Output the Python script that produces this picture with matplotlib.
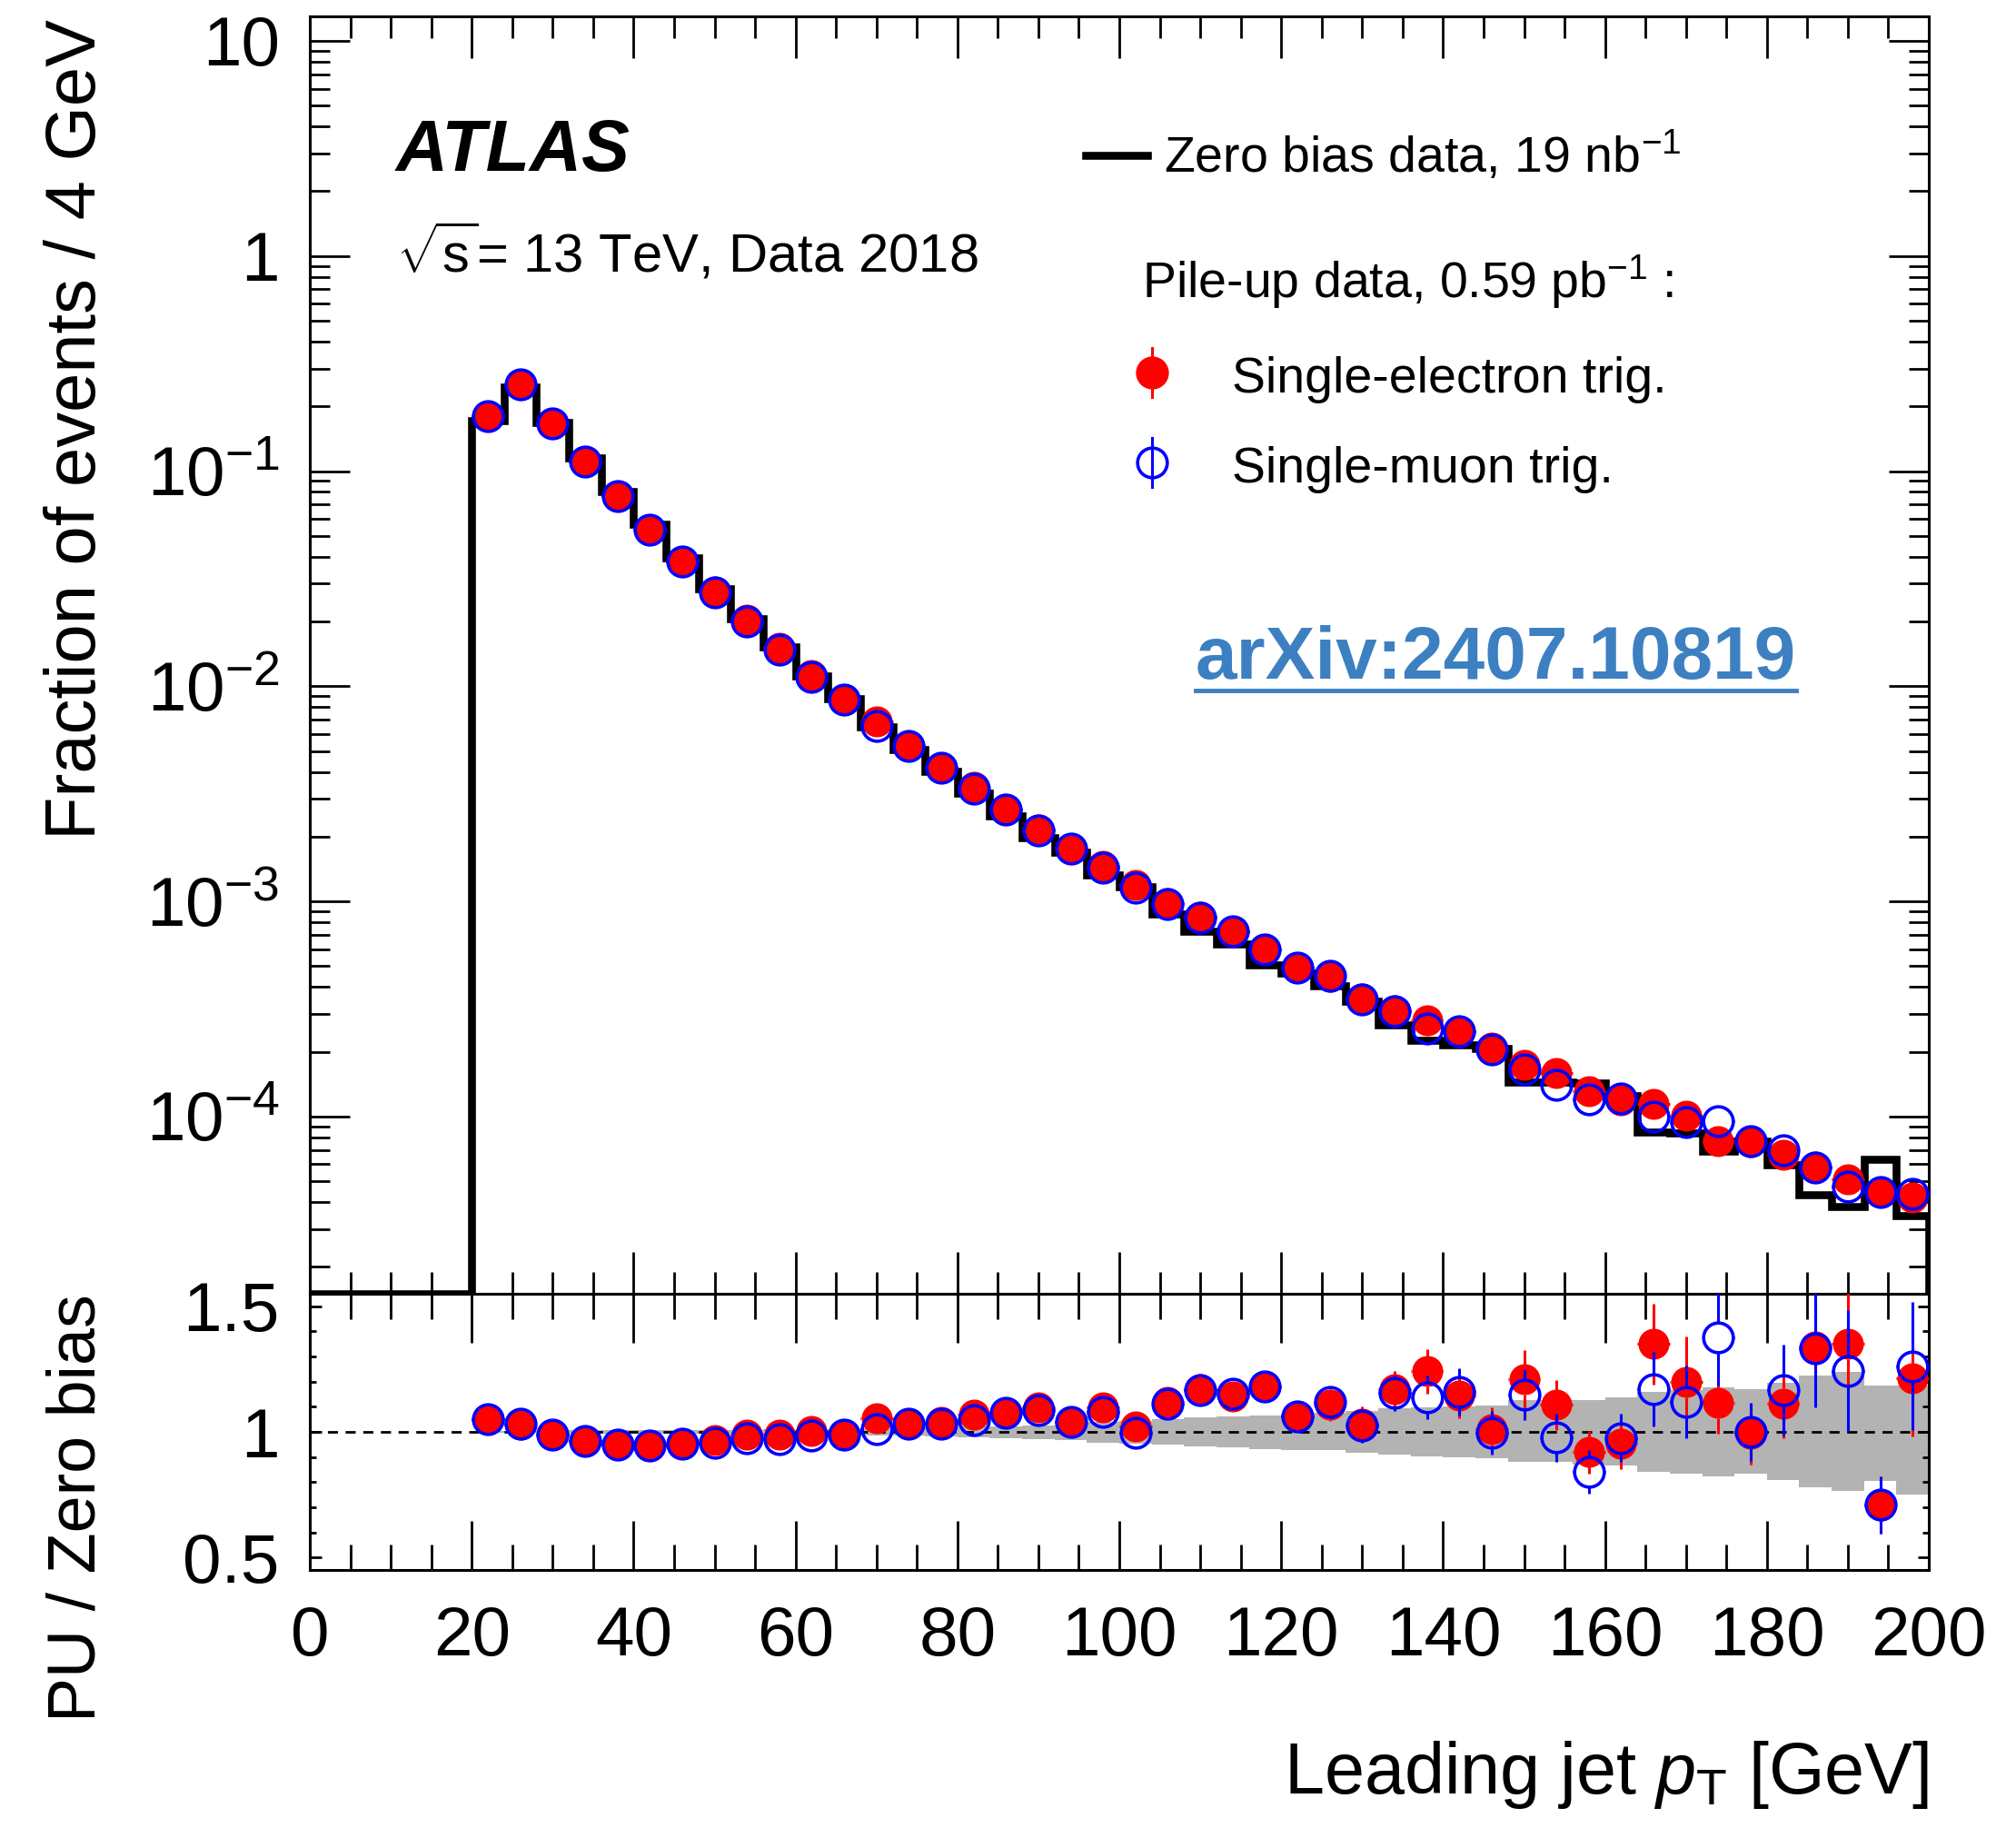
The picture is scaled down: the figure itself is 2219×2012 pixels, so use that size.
import numpy as np
import matplotlib
matplotlib.use('Agg')
import matplotlib.pyplot as plt
from matplotlib.collections import LineCollection
from matplotlib.ticker import FixedLocator, MultipleLocator, NullFormatter

plt.rcParams['font.family'] = ['Liberation Sans', 'DejaVu Sans']
plt.rcParams['mathtext.fontset'] = 'custom'
plt.rcParams['mathtext.rm'] = 'Liberation Sans'
plt.rcParams['mathtext.it'] = 'Liberation Sans:italic'
plt.rcParams['mathtext.bf'] = 'Liberation Sans:bold'

# --- data (4 GeV bins, 0-200 GeV) ---
edges = np.arange(0, 201, 4)
centers = edges[5:-1] + 2   # points from 22 to 198 GeV

# zero bias fraction per bin (first 5 bins empty)
zb = [0, 0, 0, 0, 0,
      0.172, 0.246, 0.169, 0.1153, 0.0804, 0.0564, 0.0397, 0.0285, 0.0206, 0.01518,
      0.01119, 0.00872, 0.00649, 0.00510, 0.00403, 0.00318, 0.00249, 0.00197, 0.00169, 0.00133,
      0.001166, 8.76e-4, 7.23e-4, 6.32e-4, 5.08e-4, 4.63e-4, 4.04e-4, 3.43e-4, 2.67e-4, 2.26e-4,
      2.15e-4, 2.07e-4, 1.44e-4, 1.44e-4, 1.43e-4, 1.25e-4, 8.5e-5, 8.4e-5, 6.9e-5, 7.65e-5,
      5.97e-5, 4.35e-5, 3.8e-5, 6.3e-5, 3.47e-5]

# PU / zero bias ratios
ratio_e = [1.051, 1.029, 0.990, 0.963, 0.948, 0.944, 0.954, 0.966, 0.990, 0.990,
           1.005, 0.990, 1.053, 1.033, 1.039, 1.069, 1.075, 1.099, 1.039, 1.099,
           1.021, 1.121, 1.169, 1.140, 1.180, 1.063, 1.107, 1.033, 1.170, 1.241,
           1.145, 1.010, 1.209, 1.108, 0.920, 0.952, 1.350, 1.198, 1.114, 0.991,
           1.113, 1.340, 1.350, 0.708, 1.212]
ratio_mu = [1.051, 1.033, 0.990, 0.963, 0.948, 0.944, 0.954, 0.958, 0.975, 0.972,
            0.984, 0.990, 1.012, 1.033, 1.033, 1.048, 1.075, 1.087, 1.039, 1.081,
            0.996, 1.111, 1.166, 1.152, 1.180, 1.063, 1.118, 1.024, 1.155, 1.136,
            1.160, 0.995, 1.148, 0.978, 0.840, 0.975, 1.170, 1.119, 1.375, 1.000,
            1.166, 1.332, 1.244, 0.709, 1.261]
err_e = [0.005, 0.005, 0.005, 0.005, 0.005, 0.008, 0.009, 0.010, 0.011, 0.012,
         0.014, 0.016, 0.018, 0.020, 0.022, 0.025, 0.028, 0.031, 0.034, 0.037,
         0.040, 0.044, 0.048, 0.052, 0.056, 0.060, 0.064, 0.068, 0.073, 0.090,
         0.090, 0.087, 0.115, 0.100, 0.085, 0.100, 0.162, 0.183, 0.120, 0.120,
         0.140, 0.220, 0.230, 0.115, 0.230]
err_mu = [0.005, 0.005, 0.005, 0.005, 0.005, 0.008, 0.009, 0.010, 0.011, 0.012,
          0.014, 0.016, 0.018, 0.020, 0.022, 0.025, 0.028, 0.031, 0.034, 0.037,
          0.040, 0.044, 0.048, 0.052, 0.056, 0.060, 0.064, 0.068, 0.070, 0.087,
          0.095, 0.087, 0.100, 0.096, 0.087, 0.096, 0.147, 0.144, 0.190, 0.115,
          0.180, 0.235, 0.240, 0.115, 0.255]

# zero bias uncertainty band (upper / lower edge of ratio) from 20 GeV
band_hi = [1.005, 1.005, 1.005, 1.006, 1.006, 1.007, 1.007, 1.008, 1.009, 1.010,
           1.011, 1.012, 1.014, 1.016, 1.018, 1.020, 1.023, 1.026, 1.030, 1.040,
           1.045, 1.051, 1.057, 1.062, 1.066, 1.071, 1.075, 1.084, 1.093, 1.098,
           1.103, 1.104, 1.127, 1.125, 1.128, 1.137, 1.160, 1.166, 1.177, 1.170,
           1.194, 1.224, 1.239, 1.186, 1.186]
band_lo = [0.995, 0.995, 0.995, 0.994, 0.994, 0.993, 0.993, 0.992, 0.991, 0.990,
           0.989, 0.988, 0.986, 0.984, 0.982, 0.979, 0.976, 0.972, 0.968, 0.958,
           0.954, 0.948, 0.942, 0.938, 0.933, 0.928, 0.926, 0.918, 0.910, 0.903,
           0.898, 0.895, 0.879, 0.879, 0.871, 0.865, 0.841, 0.834, 0.824, 0.833,
           0.810, 0.779, 0.765, 0.805, 0.749]

zb = np.array(zb)
pu_e = zb[5:] * np.array(ratio_e)
pu_mu = zb[5:] * np.array(ratio_mu)

W, H = 2219, 2012
fig = plt.figure(figsize=(W / 100, H / 100), dpi=100)
ax = fig.add_axes([341 / W, 1 - 1424 / H, 1782 / W, 1406 / H])
rax = fig.add_axes([341 / W, 1 - 1728 / H, 1782 / W, 304 / H], sharex=ax)

ymin, ymax = 1.5e-5, 13.0
red, blue = '#ff0000', '#0000ff'
msize = 23.5
mew = 2.6
ax.set_yscale('log')
ax.set_xlim(0, 200)
ax.set_ylim(ymin, ymax)
rax.set_ylim(0.45, 1.55)


def outer_bars(a, x, y, yerr, col, z):
    # ROOT style: error bars drawn only outside the marker
    r = msize / 2 * fig.dpi / 72
    segs = []
    for xi, yi, ei in zip(x, y, yerr):
        px, py = a.transData.transform((xi, yi))
        xl = a.transData.transform((xi - 2, yi))[0]
        xr = a.transData.transform((xi + 2, yi))[0]
        if px - xl > r:
            segs += [[(xl, py), (px - r, py)], [(px + r, py), (xr, py)]]
        if ei:
            top = a.transData.transform((xi, yi + ei))[1]
            bot = a.transData.transform((xi, yi - ei))[1]
            if top - py > r:
                segs += [[(px, py + r), (px, top)], [(px, bot), (px, py - r)]]
    inv = a.transData.inverted()
    segs = [[tuple(inv.transform(p)) for p in s] for s in segs]
    a.add_collection(LineCollection(segs, colors=col, linewidths=2.2, zorder=z))


# --- main panel ---
ax.stairs(np.where(zb > 0, zb, ymin), edges, color='black', linewidth=6.2, zorder=2)
outer_bars(ax, centers, pu_e, [0] * len(centers), red, 3)
ax.plot(centers, pu_e, 'o', color=red, ms=msize, mec=red, zorder=3)
outer_bars(ax, centers, pu_mu, [0] * len(centers), blue, 4)
ax.plot(centers, pu_mu, 'o', color=blue, ms=msize, mfc='none', mec=blue, mew=mew, zorder=4)

ax.yaxis.set_major_locator(FixedLocator([1e-4, 1e-3, 1e-2, 1e-1, 1, 10]))
ax.set_yticklabels([r'$10^{-4}$', r'$10^{-3}$', r'$10^{-2}$', r'$10^{-1}$', '1', '10'])
minors = [m * 10.0 ** k for k in range(-5, 2) for m in range(2, 10)]
ax.yaxis.set_minor_locator(FixedLocator(minors))
ax.yaxis.set_minor_formatter(NullFormatter())
ax.xaxis.set_major_locator(MultipleLocator(20))
ax.xaxis.set_minor_locator(MultipleLocator(5))
ax.tick_params(axis='x', labelbottom=False)
ax.tick_params(which='both', direction='in', top=True, right=True, width=2, labelsize=55, pad=24)
ax.tick_params(axis='y', which='major', length=32)
ax.tick_params(axis='y', which='minor', length=16)
ax.tick_params(axis='x', which='major', length=33)
ax.tick_params(axis='x', which='minor', length=17)

# --- ratio panel ---
rax.stairs(band_hi, edges[5:], baseline=band_lo, fill=True, color='#b3b3b3', linewidth=0, zorder=1)
rax.axhline(1.0, color='black', linestyle=(0, (4, 3)), linewidth=2.0, zorder=2)
outer_bars(rax, centers, ratio_e, err_e, red, 3)
rax.plot(centers, ratio_e, 'o', color=red, ms=msize, mec=red, zorder=3)
outer_bars(rax, centers, ratio_mu, err_mu, blue, 4)
rax.plot(centers, ratio_mu, 'o', color=blue, ms=msize, mfc='none', mec=blue, mew=mew, zorder=4)
rax.yaxis.set_major_locator(FixedLocator([0.5, 1.0, 1.5]))
rax.set_yticklabels(['0.5', '1', '1.5'])
rax.yaxis.set_minor_locator(MultipleLocator(0.1))
rax.tick_params(which='both', direction='in', top=True, right=True, width=2, labelsize=55)
rax.tick_params(axis='y', which='major', length=9, pad=24)
rax.tick_params(axis='y', which='minor', length=5)
rax.tick_params(axis='x', which='major', length=39, pad=28)
rax.tick_params(axis='x', which='minor', length=20)

for a in (ax, rax):
    for s in a.spines.values():
        s.set_linewidth(2.2)

fig.text(85 / W, 1 - 21 / H, 'Fraction of events / 4 GeV', rotation=90,
         ha='center', va='top', fontsize=56)
fig.text(85 / W, 1 - 1424 / H, 'PU / Zero bias', rotation=90,
         ha='center', va='top', fontsize=53)
fig.text(2123 / W, 1 - 1974 / H, r'Leading jet $p_{\mathrm{T}}$ [GeV]',
         ha='right', va='baseline', fontsize=57)

# --- labels and legend ---
tr = ax.transAxes
ax.text(0.0533, 0.879, 'ATLAS', transform=tr, fontsize=57, fontweight='bold',
        fontstyle='italic', ha='left', va='baseline')
ax.text(0.0533, 0.7995, r'$\sqrt{\mathrm{s}}$= 13 TeV, Data 2018', transform=tr, fontsize=43,
        ha='left', va='baseline')

ax.plot([0.4795, 0.5176], [0.8915, 0.8915], transform=tr, color='black', linewidth=6.2,
        clip_on=False)
ax.text(0.5275, 0.878, r'Zero bias data, 19 nb$^{-1}$', transform=tr, fontsize=40,
        ha='left', va='baseline')
ax.text(0.5141, 0.7795, r'Pile-up data, 0.59 pb$^{-1}$ :', transform=tr, fontsize=40,
        ha='left', va='baseline')
for yl, col, face in [(0.7212, red, red), (0.6508, blue, 'none')]:
    ax.plot([0.5202, 0.5202], [yl - 0.0192, yl + 0.0192], transform=tr, color=col,
            linewidth=2.2, clip_on=False)
    ax.plot([0.5202], [yl], 'o', transform=tr, color=col, mfc=face, mec=col, ms=msize,
            mew=mew, clip_on=False)
ax.text(0.5696, 0.7056, 'Single-electron trig.', transform=tr, fontsize=40,
        ha='left', va='baseline')
ax.text(0.5696, 0.6351, 'Single-muon trig.', transform=tr, fontsize=40,
        ha='left', va='baseline')

arx = ax.text(0.5472, 0.4815, 'arXiv:2407.10819', transform=tr, fontsize=59,
              fontweight='bold', color='#3d80c2', ha='left', va='baseline')
fig.canvas.draw()
bb = arx.get_window_extent().transformed(tr.inverted())
ax.plot([bb.x0, bb.x1], [0.4725, 0.4725], transform=tr, color='#3d80c2',
        linewidth=3.5, clip_on=False)

fig.savefig('out.png', dpi=100)
